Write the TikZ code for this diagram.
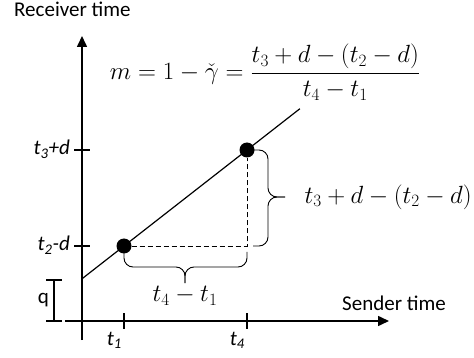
\documentclass[tikz,border=0pt]{standalone}
\usepackage{fontspec}
\setmainfont{Carlito}
\usetikzlibrary{arrows.meta, positioning, calc}

\begin{document}
\begin{tikzpicture}[x=1pt, y=-1pt,
    >={Triangle[length=11pt, width=10pt]},
    axis/.style={->, line width=1.6pt},
    tickmark/.style={line width=1.6pt},
    slope/.style={line width=1.2pt},
    guide/.style={line width=0.9pt, dash pattern=on 5pt off 3pt},
    brace/.style={line width=0.9pt, rounded corners=9pt},
    dot/.style={circle, fill=black, inner sep=0pt, minimum size=15pt},
    lbl/.style={font=\fontsize{21}{24}\selectfont, inner sep=0pt},
    ticklbl/.style={font=\fontsize{21}{24}\selectfont\itshape, inner sep=0pt},
    mathlbl/.style={font=\fontsize{23}{27}\selectfont}]

  \useasboundingbox (0,0) rectangle (474,358);

  % axes
  \coordinate (ybot) at (82,340);
  \coordinate (ytop) at (82,36);
  \coordinate (xleft) at (65,321);
  \coordinate (xright) at (389,321);
  \draw[axis] (ybot) -- (ytop);
  \draw[axis] (xleft) -- (xright);

  \node[lbl, anchor=base west] (ylbl) at (14,17) {Receiver time};
  \node[lbl, anchor=base west] (xlbl) at (342,310) {Sender time};

  % measured points
  \node[dot] (p1) at (124,246) {};
  \node[dot] (p4) at (247,150) {};
  \draw[slope] ($(p1)!-0.34!(p4)$) -- ($(p1)!1.43!(p4)$);
  \draw[guide] (p1) -- (p1 -| p4) -- (p4);

  % ticks on both axes
  \coordinate (t1) at (p1 |- xleft);
  \coordinate (t4) at (p4 |- xleft);
  \coordinate (y2) at (p1 -| ybot);
  \coordinate (y3) at (p4 -| ybot);
  \foreach \c in {t1, t4}
    \draw[tickmark] ($(\c)+(0,-8)$) -- ($(\c)+(0,8)$);
  \foreach \c in {y2, y3}
    \draw[tickmark] ($(\c)+(-8,0)$) -- ($(\c)+(8,0)$);

  \node[ticklbl, anchor=base east] (t1lbl) at ($(t1)+(-2,24)$) {t\textsubscript{1}};
  \node[ticklbl, anchor=base east] (t4lbl) at ($(t4)+(-2,24)$) {t\textsubscript{4}};
  \node[ticklbl, anchor=base east] (y3lbl) at ($(y3)+(-12,5)$) {t\textsubscript{3}+d};
  \node[ticklbl, anchor=base east] (y2lbl) at ($(y2)+(-12,5)$) {t\textsubscript{2}-d};

  % offset q
  \coordinate (qtop) at (54,280);
  \coordinate (qbot) at (54,321);
  \draw[tickmark] (qtop) -- (qbot);
  \draw[tickmark] ($(qtop)+(-8,0)$) -- ($(qtop)+(8,0)$);
  \draw[tickmark] ($(qbot)+(-8,0)$) -- ($(qbot)+(8,0)$);
  \node[lbl, left=5pt of $(qtop)!0.5!(qbot)$] (qlbl) {q};

  % braces
  \coordinate (tipb) at (185,283);
  \coordinate (tipr) at (285,197);
  \draw[brace] ($(p1)+(0,6)$) |- ($(tipb)+(0,-16)$) -- (tipb);
  \draw[brace] ($(p1 -| p4)+(0,6)$) |- ($(tipb)+(0,-16)$) -- (tipb);
  \draw[brace] ($(p4)+(6,0)$) -| ($(tipr)+(-17,0)$) -- (tipr);
  \draw[brace] ($(p1 -| p4)+(6,0)$) -| ($(tipr)+(-17,0)$) -- (tipr);

  \node[mathlbl, below=0pt of tipb] (dx) {$t_4 - t_1$};
  \node[mathlbl, right=16pt of tipr] (dy) {$t_3 + d - (t_2 - d)$};

  \node[mathlbl] (rate) at (265,72)
    {$\displaystyle m = 1 - \check{\gamma} = \frac{t_3 + d - (t_2 - d)}{t_4 - t_1}$};

\end{tikzpicture}
\end{document}
